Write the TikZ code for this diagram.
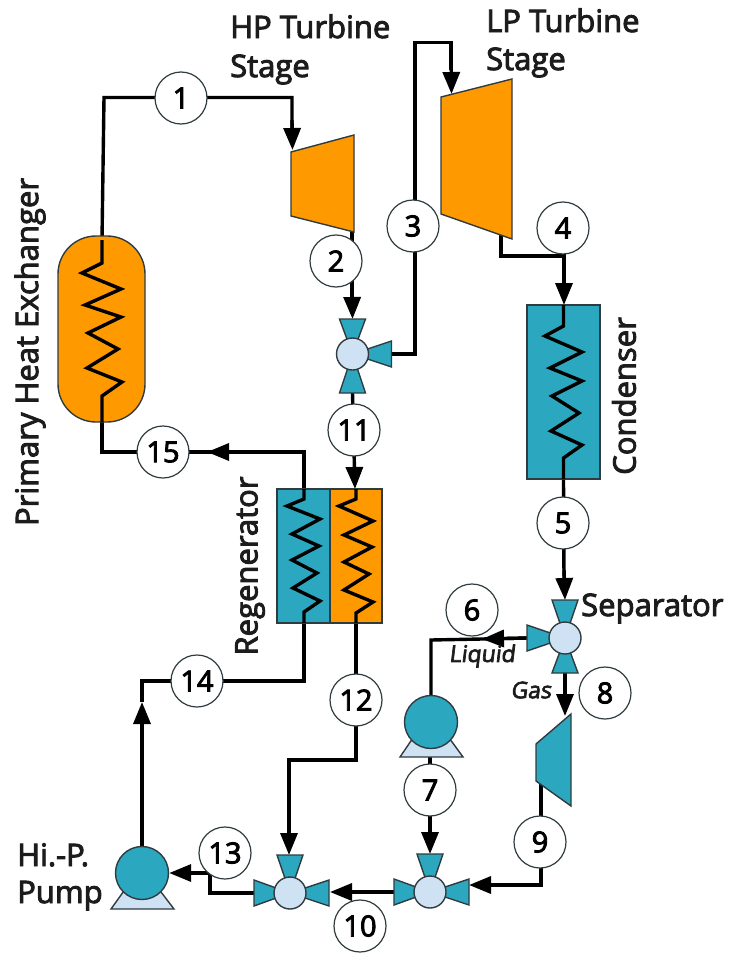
\documentclass[tikz,border=0pt]{standalone}
\usepackage{fontspec}
\setmainfont{Open Sans}[RawFeature={embolden=3}]
\newfontfamily\slantfont{Open Sans}[RawFeature={embolden=3;slant=0.12}]
\usetikzlibrary{arrows.meta,backgrounds}
\definecolor{teal}{HTML}{2BA8C0}
\definecolor{orng}{HTML}{FF9900}
\definecolor{pale}{HTML}{CFE2F3}
\definecolor{edge}{HTML}{2F3B3F}
\definecolor{ink}{HTML}{1C1C1C}
\tikzset{
  pipe/.style={line width=3.4pt,black,line join=miter},
  flow/.style={pipe,-{Triangle[width=17pt,length=22pt]}},
  coil/.style={line width=3.4pt,black,line join=miter},
  num/.style={circle,draw=edge,line width=1.2pt,fill=white,minimum size=52pt,inner sep=0pt,text=black,font=\fontsize{29}{29}\selectfont},
  label/.style={text=ink,font=\fontsize{31}{36}\selectfont,inner sep=0pt},
  small/.style={text=ink,font=\fontsize{23}{26}\selectfont\slantfont,inner sep=0pt},
  equip/.style={draw=edge,line width=1.4pt,line join=miter},
  hub/.style={circle,draw=edge,line width=1.4pt,fill=pale,minimum size=32pt,inner sep=0pt},
  pumpbody/.style={circle,draw=edge,line width=1.4pt,fill=teal,minimum size=53pt,inner sep=0pt},
}
% valve leg: apex at hub centre, two outer corners
\newcommand{\vleg}[3]{\fill[teal,draw=edge,line width=1.4pt,line join=miter] (#1) -- +(#2) -- +(#3) -- cycle;}
\begin{document}
\begin{tikzpicture}[x=1pt,y=-1pt]
\useasboundingbox (0,0) rectangle (730,953);
% Equipment
\draw[equip,fill=orng,rounded corners=38pt] (58,236) rectangle (145,422);
\draw[equip,fill=orng] (291,152) -- (354,135) -- (354,232) -- (291,216) -- cycle;
\draw[equip,fill=orng] (441,97) -- (512,79) -- (512,239) -- (441,214) -- cycle;
\draw[equip,fill=teal] (527,305) rectangle (600,479);
\draw[equip,fill=teal] (277,489) rectangle (330,623);
\draw[equip,fill=orng] (330,489) rectangle (382,623);
\draw[equip,fill=teal] (571,714) -- (571,806) -- (536,781) -- (536,744) -- cycle;
% Coils
\draw[coil] (102,240) -- (102,263) -- (82,273) -- (121,289) -- (85,305) -- (121,317) -- (88,333) -- (118,349) -- (87,368) -- (122,382) -- (102,396) -- (102,422);
\draw[coil] (563.5,305) -- (563.5,326) -- (545,336) -- (582,352) -- (550,368) -- (582,381) -- (552,396) -- (579,413) -- (551,431) -- (582,445) -- (563.5,458) -- (563.5,479);
\draw[coil] (304,489) -- (304,499) -- (287,506) -- (320,519) -- (292,534) -- (319,546) -- (292,560) -- (317,573) -- (293,588) -- (320,601) -- (304,612) -- (304,623);
\draw[coil] (356,489) -- (356,499) -- (339,506) -- (373,521) -- (344,535) -- (372,547) -- (344,562) -- (369,574) -- (344,590) -- (373,602) -- (356,613) -- (356,623);
% Valves
\vleg{352.5,354}{-13,-35}{13,-35}
\vleg{352.5,354}{-13,39}{13,39}
\vleg{352.5,354}{39,-13}{39,13}
\node[hub] (vA) at (352.5,354) {};
\vleg{565,638}{-13,-38}{13,-38}
\vleg{565,638}{-13,35}{13,35}
\vleg{565,638}{-38,-13}{-38,13}
\node[hub] (vB) at (565,638) {};
\vleg{430,892}{-13,-38}{13,-38}
\vleg{430,892}{-36,-13}{-36,13}
\vleg{430,892}{39,-13}{39,13}
\node[hub] (vC) at (430,892) {};
\vleg{290,893}{-13,-38}{13,-38}
\vleg{290,893}{-36,-13}{-36,13}
\vleg{290,893}{39,-13}{39,13}
\node[hub] (vD) at (290,893) {};
% Pumps
\draw[equip,fill=pale] (415,735) -- (447,735) -- (463,757) -- (400,757) -- cycle;
\node[pumpbody] (pA) at (431,722) {};
\draw[equip,fill=pale] (126,888) -- (158,888) -- (174,909) -- (111,909) -- cycle;
\node[pumpbody] (pB) at (142,873) {};
% Named connection points
\coordinate (hxT) at (102,240);
\coordinate (hxB) at (102,422);
\coordinate (a1) at (104,97.5);
\coordinate (a2) at (292,97.5);
\coordinate (hpIn) at (292.5,150);
\coordinate (hpOut) at (352,232);
\coordinate (vAt) at (352.5,319);
\coordinate (vAr) at (392,354);
\coordinate (vAb) at (352.5,393);
\coordinate (b1) at (415,354);
\coordinate (b2) at (415,42.5);
\coordinate (b3) at (451,42.5);
\coordinate (lpIn) at (451.5,94);
\coordinate (lpOut) at (501,232);
\coordinate (c1) at (501,256);
\coordinate (c2) at (564,256);
\coordinate (cdT) at (564,305);
\coordinate (cdB) at (563.5,479);
\coordinate (vBt) at (565,600);
\coordinate (vBl) at (527,638);
\coordinate (vBb) at (565,673);
\coordinate (d1) at (431,640);
\coordinate (d2) at (482,639);
\coordinate (tgIn) at (565,716);
\coordinate (tgOut) at (541,784);
\coordinate (e1) at (541,885);
\coordinate (vCr) at (469,885);
\coordinate (vCt) at (430,854);
\coordinate (vCl) at (394,892);
\coordinate (pAb) at (430,757);
\coordinate (vDr) at (330,892);
\coordinate (vDt) at (289,855);
\coordinate (vDl) at (254,893);
\coordinate (f1) at (210,893);
\coordinate (f2) at (210,873);
\coordinate (g1) at (142,702);
\coordinate (g2) at (142,681);
\coordinate (g3) at (304,681);
\coordinate (rgLB) at (304,623);
\coordinate (rgLT) at (304,489);
\coordinate (rgRT) at (355,489);
\coordinate (rgRB) at (356,623);
\coordinate (h1) at (304,452);
\coordinate (h2) at (102,452);
\coordinate (h3) at (207,452);
\coordinate (j1) at (356,760);
\coordinate (j2) at (289,760);
% Pipes
\begin{scope}[on background layer]
\draw[pipe] (hxT) -- (a1) -- (a2) -- (292,130);
\draw[flow] (292,120) -- (hpIn);
\draw[pipe] (hpOut) -- (352,300);
\draw[flow] (352,285) -- (vAt);
\draw[pipe] (vAr) -- (b1) -- (b2) -- (b3) -- (451,70);
\draw[flow] (b3) -- (lpIn);
\draw[pipe] (lpOut) -- (c1) -- (c2) -- (564,285);
\draw[flow] (c2) -- (cdT);
\draw[pipe] (cdB) -- (564,580);
\draw[flow] (564,570) -- (vBt);
\draw[pipe] (vBl) -- (d2) -- (d1) -- (pA);
\draw[flow] (vBl) -- (d2);
\draw[flow] (vBb) -- (tgIn);
\draw[pipe] (tgOut) -- (e1) -- (490,885);
\draw[flow] (e1) -- (vCr);
\draw[flow] (pAb) -- (vCt);
\draw[flow] (vCl) -- (vDr);
\draw[pipe] (rgRB) -- (j1) -- (j2) -- (289,830);
\draw[flow] (j2) -- (vDt);
\draw[pipe] (vDl) -- (f1) -- (f2) -- (185,873);
\draw[flow] (f2) -- (pB);
\draw[flow] (pB) -- (g1);
\draw[pipe] (g1) -- (g2) -- (g3) -- (rgLB);
\draw[pipe] (rgLT) -- (h1) -- (h2) -- (hxB);
\draw[flow] (h1) -- (h3);
\draw[flow] (vAb) -- (rgRT);
\end{scope}
% Stream labels
\node[num] (n1) at (181,98) {1};
\node[num] (n2) at (336,261) {2};
\node[num] (n3) at (413,226) {3};
\node[num] (n4) at (563,228) {4};
\node[num] (n5) at (563,523) {5};
\node[num] (n6) at (472,610) {6};
\node[num] (n7) at (430,790) {7};
\node[num] (n8) at (605,693) {8};
\node[num] (n9) at (540,842) {9};
\node[num] (n10) at (360,926) {10};
\node[num] (n11) at (354,430) {11};
\node[num] (n12) at (356,700) {12};
\node[num] (n13) at (225,853) {13};
\node[num] (n14) at (197,681) {14};
\node[num] (n15) at (163,452) {15};
% Text
\node[label,anchor=base west] (t1) at (230,38) {HP Turbine};
\node[label,anchor=base west] (t2) at (230,77) {Stage};
\node[label,anchor=base west] (t3) at (486,32) {LP Turbine};
\node[label,anchor=base west] (t4) at (486,70) {Stage};
\node[label,rotate=90] (t5) at (30,352) {Primary Heat Exchanger};
\node[label,rotate=90] (t6) at (250,566) {Regenerator};
\node[label,rotate=90] (t7) at (624,396) {Condenser};
\node[label,anchor=base west] (t8) at (581,616) {Separator};
\node[label,anchor=base west] (t9) at (17,866) {Hi.-P.};
\node[label,anchor=base west] (t10) at (17,903) {Pump};
\node[small] (t11) at (482,656) {Liquid};
\node[small] (t12) at (531,690) {Gas};
\end{tikzpicture}
\end{document}
